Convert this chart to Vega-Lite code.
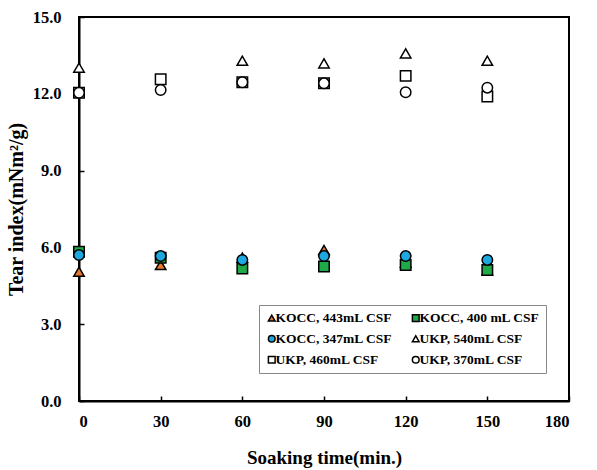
{
  "$schema": "https://vega.github.io/schema/vega-lite/v6.json",
  "autosize": {"type": "none"},
  "padding": {"left": 79, "top": 17, "right": 28, "bottom": 69},
  "width": 490,
  "height": 384,
  "background": "white",
  "config": {
    "font": "Liberation Serif",
    "view": {"stroke": "black", "strokeWidth": 2},
    "axis": {"grid": false, "domainColor": "black", "domainWidth": 2, "tickColor": "black", "tickWidth": 1.5,
             "labelFont": "Liberation Serif", "labelFontWeight": "bold", "labelFontSize": 16.5, "labelColor": "black",
             "titleFont": "Liberation Serif", "titleFontWeight": "bold", "titleColor": "black"}
  },
  "data": {"values": [
    {"series": "KOCC, 443mL CSF", "time": 0, "tear": 5.05},
    {"series": "KOCC, 443mL CSF", "time": 30, "tear": 5.31},
    {"series": "KOCC, 443mL CSF", "time": 60, "tear": 5.6},
    {"series": "KOCC, 443mL CSF", "time": 90, "tear": 5.9},
    {"series": "KOCC, 443mL CSF", "time": 120, "tear": 5.4},
    {"series": "KOCC, 443mL CSF", "time": 150, "tear": 5.1},
    {"series": "KOCC, 400 mL CSF", "time": 0, "tear": 5.83},
    {"series": "KOCC, 400 mL CSF", "time": 30, "tear": 5.6},
    {"series": "KOCC, 400 mL CSF", "time": 60, "tear": 5.18},
    {"series": "KOCC, 400 mL CSF", "time": 90, "tear": 5.25},
    {"series": "KOCC, 400 mL CSF", "time": 120, "tear": 5.31},
    {"series": "KOCC, 400 mL CSF", "time": 150, "tear": 5.12},
    {"series": "KOCC, 347mL CSF", "time": 0, "tear": 5.7},
    {"series": "KOCC, 347mL CSF", "time": 30, "tear": 5.66},
    {"series": "KOCC, 347mL CSF", "time": 60, "tear": 5.51},
    {"series": "KOCC, 347mL CSF", "time": 90, "tear": 5.66},
    {"series": "KOCC, 347mL CSF", "time": 120, "tear": 5.66},
    {"series": "KOCC, 347mL CSF", "time": 150, "tear": 5.51},
    {"series": "UKP, 540mL CSF", "time": 0, "tear": 13.02},
    {"series": "UKP, 540mL CSF", "time": 60, "tear": 13.29},
    {"series": "UKP, 540mL CSF", "time": 90, "tear": 13.19},
    {"series": "UKP, 540mL CSF", "time": 120, "tear": 13.58},
    {"series": "UKP, 540mL CSF", "time": 150, "tear": 13.29},
    {"series": "UKP, 460mL CSF", "time": 0, "tear": 12.04},
    {"series": "UKP, 460mL CSF", "time": 30, "tear": 12.57},
    {"series": "UKP, 460mL CSF", "time": 60, "tear": 12.45},
    {"series": "UKP, 460mL CSF", "time": 90, "tear": 12.41},
    {"series": "UKP, 460mL CSF", "time": 120, "tear": 12.7},
    {"series": "UKP, 460mL CSF", "time": 150, "tear": 11.89},
    {"series": "UKP, 370mL CSF", "time": 0, "tear": 12.04},
    {"series": "UKP, 370mL CSF", "time": 30, "tear": 12.15},
    {"series": "UKP, 370mL CSF", "time": 60, "tear": 12.45},
    {"series": "UKP, 370mL CSF", "time": 90, "tear": 12.41},
    {"series": "UKP, 370mL CSF", "time": 120, "tear": 12.06},
    {"series": "UKP, 370mL CSF", "time": 150, "tear": 12.24}
  ]},
  "mark": {"type": "point", "filled": true, "stroke": "black", "strokeWidth": 1.5, "size": 110, "opacity": 1},
  "encoding": {
    "x": {"field": "time", "type": "quantitative",
          "scale": {"domain": [0, 180], "nice": false, "zero": false},
          "axis": {"title": "Soaking time(min.)", "titleFontSize": 19, "values": [0, 30, 60, 90, 120, 150, 180], "tickSize": -5, "labelPadding": 17, "titlePadding": 19}},
    "y": {"field": "tear", "type": "quantitative",
          "scale": {"domain": [0, 15], "nice": false},
          "axis": {"title": "Tear index(mNm²/g)", "titleFontSize": 20, "values": [0, 3, 6, 9, 12, 15], "format": ".1f", "tickSize": -5, "labelPadding": 23, "titlePadding": 6}},
    "shape": {"field": "series", "type": "nominal",
              "scale": {"domain": ["KOCC, 443mL CSF", "KOCC, 347mL CSF", "UKP, 460mL CSF", "KOCC, 400 mL CSF", "UKP, 540mL CSF", "UKP, 370mL CSF"],
                        "range": ["triangle-up", "circle", "square", "square", "triangle-up", "circle"]},
              "legend": {"title": null, "orient": "none", "legendX": 180, "legendY": 288, "columns": 2,
                         "strokeColor": "#888888", "padding": 6, "fillColor": "white",
                         "labelFont": "Liberation Serif", "labelFontWeight": "bold", "labelFontSize": 13.5, "labelColor": "black",
                         "symbolSize": 45, "labelOffset": -3,
                         "columnPadding": 16, "rowPadding": 6, "labelLimit": 200, "symbolOffset": 0,
                         "encode": {"symbols": {"update": {"stroke": {"value": "black"}, "strokeWidth": {"value": 1.2}}}}}},
    "fill": {"field": "series", "type": "nominal",
             "scale": {"domain": ["KOCC, 443mL CSF", "KOCC, 347mL CSF", "UKP, 460mL CSF", "KOCC, 400 mL CSF", "UKP, 540mL CSF", "UKP, 370mL CSF"],
                       "range": ["#e8792c", "#1ea8e0", "white", "#1faa4a", "white", "white"]},
              "legend": {"title": null, "orient": "none", "legendX": 180, "legendY": 288, "columns": 2,
                         "strokeColor": "#888888", "padding": 6, "fillColor": "white",
                         "labelFont": "Liberation Serif", "labelFontWeight": "bold", "labelFontSize": 13.5, "labelColor": "black",
                         "symbolSize": 45, "labelOffset": -3,
                         "columnPadding": 16, "rowPadding": 6, "labelLimit": 200, "symbolOffset": 0,
                         "encode": {"symbols": {"update": {"stroke": {"value": "black"}, "strokeWidth": {"value": 1.2}}}}}}
  }
}
